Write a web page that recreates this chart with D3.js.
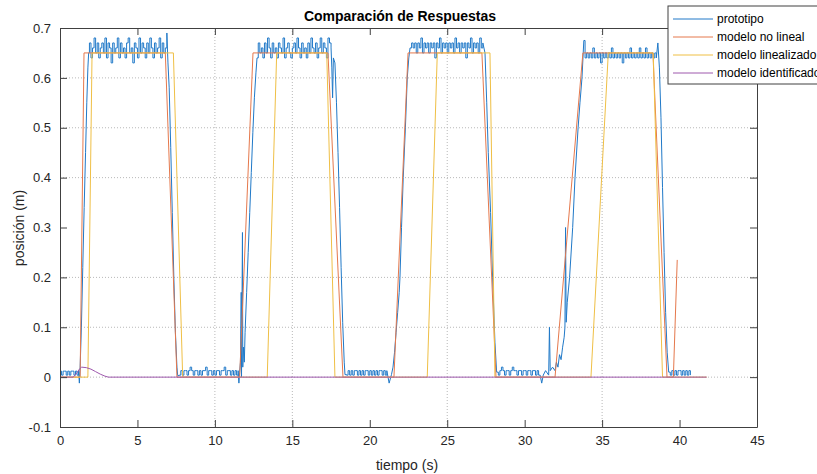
<!DOCTYPE html>
<html>
<head>
<meta charset="utf-8">
<script src="https://cdn.jsdelivr.net/npm/d3@7"></script>
<style>
body { margin: 0; background: #fff; }
text { font-family: "Liberation Sans", Arial, sans-serif; }
</style>
</head>
<body>
<div class="chart"></div>
<script>
// Comparación de Respuestas - posición vs tiempo
var series = ["prototipo", "modelo no lineal", "modelo linealizado", "modelo identificado"];
var color = ["#2079c8", "#e5784c", "#efbf45", "#9e58ad"];

var xTicks = [0, 5, 10, 15, 20, 25, 30, 35, 40, 45];
var yTicks = [-0.1, 0, 0.1, 0.2, 0.3, 0.4, 0.5, 0.6, 0.7];
var xGrid = [10, 15, 25, 35];
var yGrid = [0, 0.1, 0.2, 0.4, 0.5, 0.6];

// modelos [t, y]
var noLineal = [[0, 0], [1.3, 0], [1.55, 0.65], [6.8, 0.65], [7.55, 0], [11.6, 0], [12.46, 0.65], [17.3, 0.65], [18.27, 0],
    [21.56, 0], [22.47, 0.65], [27.24, 0.65], [28.15, 0], [31.96, 0], [33.76, 0.65], [38.28, 0.65], [39.19, 0], [39.6, 0], [39.85, 0.235]];
var linealizado = [[0, 0], [1.8, 0], [2.07, 0.65], [7.32, 0.65], [7.92, 0], [13.38, 0], [13.99, 0.65], [17.22, 0.65], [17.75, 0],
    [23.71, 0], [24.36, 0.65], [27.76, 0.65], [28.08, 0], [34.28, 0], [35.4, 0.65], [38.3, 0.65], [38.9, 0], [41.75, 0]];
var identificado = [[0, 0], [0.86, 0], [1.1, 0.009], [1.25, 0.016], [1.4, 0.02], [1.7, 0.019], [2.0, 0.016], [2.3, 0.011],
    [2.6, 0.006], [2.9, 0.002], [3.12, 0], [41.75, 0]];

// prototipo: tramos con ruido (muestras cada 0.1 s) y transiciones [t, y]
var dtRuido = 0.1;
var proto_base0 = [0.012, 0.004, 0.012, 0.012, 0.004, 0.012, 0.004, 0.012, 0.012, 0.004, 0.012, 0.004, 0.012]; // t0 = 0
var proto_sube1 = [[1.25, -0.012], [1.3, 0.02], [1.38, 0.1], [1.47, 0.22], [1.56, 0.34], [1.65, 0.45], [1.73, 0.55], [1.8, 0.62], [1.85, 0.65]];
var proto_top1 = [0.67, 0.64, 0.66, 0.68, 0.65, 0.67, 0.64, 0.66, 0.67, 0.65, 0.68, 0.64, 0.67, 0.66, 0.63, 0.67, 0.65, 0.66, 0.68, 0.64,
    0.67, 0.65, 0.66, 0.64, 0.67, 0.68, 0.65, 0.66, 0.63, 0.67, 0.66, 0.64, 0.68, 0.65, 0.67, 0.66, 0.64, 0.67, 0.65, 0.68,
    0.66, 0.64, 0.67, 0.65, 0.66, 0.68, 0.64, 0.67, 0.65, 0.66, 0.69]; // t0 = 1.9
var proto_baja1 = [[6.97, 0.63], [7.05, 0.58], [7.15, 0.46], [7.25, 0.33], [7.35, 0.2], [7.45, 0.09], [7.55, 0.02], [7.6, 0.003]];
var proto_base1 = [0.004, 0.013, 0.004, 0.013, 0.013, 0.004, 0.013, 0.02, 0.013, 0.004, 0.013, 0.013, 0.004, 0.013, 0.004, 0.013,
    0.013, 0.02, 0.004, 0.013, 0.013, 0.004, 0.013, 0.004, 0.013, 0.013, 0.004, 0.013, 0.013, 0.02, 0.004, 0.013, 0.013, 0.004,
    0.013, 0.004, 0.013, 0.004, 0.013]; // t0 = 7.7
var proto_sube2 = [[11.55, -0.012], [11.6, 0.01], [11.65, 0.03], [11.7, 0.17], [11.72, 0.0], [11.78, 0.29], [11.8, 0.02], [11.85, 0.06],
    [11.9, 0.03], [11.95, 0.09], [12.05, 0.17], [12.15, 0.25], [12.25, 0.33], [12.35, 0.41], [12.45, 0.49], [12.55, 0.56], [12.65, 0.61],
    [12.72, 0.64]];
var proto_top2 = [0.67, 0.65, 0.66, 0.64, 0.67, 0.65, 0.68, 0.66, 0.64, 0.67, 0.65, 0.66, 0.64, 0.67, 0.66, 0.65, 0.68, 0.64, 0.66, 0.67,
    0.65, 0.64, 0.66, 0.67, 0.65, 0.68, 0.66, 0.64, 0.67, 0.65, 0.66, 0.64, 0.67, 0.65, 0.68, 0.66, 0.65, 0.67, 0.64, 0.66,
    0.68, 0.65, 0.67, 0.66, 0.64, 0.68, 0.67, 0.66]; // t0 = 12.8
var proto_baja2 = [[17.55, 0.62], [17.6, 0.56], [17.65, 0.64], [17.75, 0.63], [17.85, 0.55], [17.95, 0.45], [18.05, 0.34], [18.15, 0.22],
    [18.25, 0.11], [18.35, 0.03], [18.4, 0.005]];
var proto_base2 = [0.004, 0.013, 0.004, 0.013, 0.004, 0.013, 0.013, 0.004, 0.013, 0.004, 0.013, 0.004, 0.013, 0.013, 0.004, 0.013,
    0.004, 0.013, 0.004, 0.013, 0.004, 0.013, 0.013, 0.004, 0.013, 0.004, 0.013]; // t0 = 18.5
var proto_sube3 = [[21.25, -0.012], [21.4, 0.005], [21.5, 0.02], [21.6, 0.05], [21.7, 0.09], [21.8, 0.13], [21.9, 0.17], [21.95, 0.2],
    [22.05, 0.3], [22.16, 0.4], [22.3, 0.5], [22.42, 0.6], [22.52, 0.64], [22.6, 0.66]];
var proto_top3 = [0.67, 0.66, 0.67, 0.65, 0.67, 0.66, 0.68, 0.65, 0.67, 0.66, 0.67, 0.65, 0.67, 0.66, 0.67, 0.64, 0.67, 0.66, 0.68, 0.65,
    0.67, 0.66, 0.67, 0.65, 0.67, 0.66, 0.67, 0.65, 0.68, 0.66, 0.67, 0.65, 0.67, 0.66, 0.67, 0.64, 0.67, 0.66, 0.68, 0.65,
    0.67, 0.66, 0.67, 0.65, 0.68, 0.66, 0.67]; // t0 = 22.7
var proto_baja3 = [[27.44, 0.65], [27.55, 0.55], [27.65, 0.45], [27.8, 0.33], [27.93, 0.2], [28.08, 0.07], [28.19, 0.01]];
var proto_base3 = [0.004, 0.013, 0.02, 0.013, 0.004, 0.013, 0.013, 0.004, 0.013, 0.02, 0.013, 0.013, 0.004, 0.013, 0.013, 0.004,
    0.013, 0.013, 0.004, 0.013, 0.013, 0.004, 0.013, 0.013, 0.004, 0.013, 0.004]; // t0 = 28.3
var proto_sube4 = [[31.0, 0.004], [31.1, -0.012], [31.2, 0.004], [31.35, 0.013], [31.55, 0.004], [31.6, 0.1], [31.65, 0.013], [31.8, 0.02],
    [31.96, 0.013], [32.05, 0.03], [32.15, 0.02], [32.25, 0.045], [32.35, 0.035], [32.45, 0.06], [32.55, 0.08], [32.6, 0.1], [32.64, 0.3],
    [32.68, 0.11], [32.75, 0.15], [32.9, 0.2], [33.1, 0.3], [33.25, 0.4], [33.45, 0.5], [33.57, 0.55], [33.7, 0.6], [33.78, 0.65], [33.82, 0.675]];
var proto_top4 = [0.64, 0.65, 0.64, 0.65, 0.64, 0.66, 0.64, 0.65, 0.64, 0.65, 0.63, 0.65, 0.64, 0.65, 0.64, 0.65, 0.64, 0.66, 0.64, 0.65,
    0.64, 0.65, 0.64, 0.65, 0.63, 0.65, 0.64, 0.65, 0.64, 0.66, 0.64, 0.65, 0.64, 0.65, 0.64, 0.66, 0.64, 0.65, 0.64, 0.66,
    0.64, 0.65, 0.64, 0.65, 0.64, 0.65, 0.64]; // t0 = 33.9
var proto_baja4 = [[38.6, 0.67], [38.7, 0.62], [38.8, 0.52], [38.9, 0.38], [39.0, 0.25], [39.1, 0.13], [39.2, 0.05], [39.3, 0.01]];
var proto_base4 = [0.004, 0.013, 0.004, 0.013, 0.004, 0.013, 0.013, 0.004, 0.013, 0.004, 0.013, 0.004, 0.013, 0.004]; // t0 = 39.4

function ruido(t0, vals) {
    return vals.map(function(v, i) { return [t0 + i * dtRuido, v]; });
}

// tramos del prototipo: ruido cuantizado (escalones) y transiciones (rectas)
var tramos = [
    [ruido(0, proto_base0), true], [proto_sube1, false], [ruido(1.9, proto_top1), true], [proto_baja1, false],
    [ruido(7.7, proto_base1), true], [proto_sube2, false], [ruido(12.8, proto_top2), true], [proto_baja2, false],
    [ruido(18.5, proto_base2), true], [proto_sube3, false], [ruido(22.7, proto_top3), true], [proto_baja3, false],
    [ruido(28.3, proto_base3), true], [proto_sube4, false], [ruido(33.9, proto_top4), true], [proto_baja4, false],
    [ruido(39.4, proto_base4), true]
];

var W = 817, H = 474;
var L = 60, R = 757, T = 28, B = 427;

var svg = d3.select(".chart")
    .append("svg")
    .attr("width", W)
    .attr("height", H);

var x = d3.scaleLinear().domain([0, 45]).range([L, R]);
var y = d3.scaleLinear().domain([-0.1, 0.7]).range([B, T]);

// grid punteado
xGrid.forEach(function(d) {
    svg.append("line")
        .attr("x1", x(d)).attr("x2", x(d))
        .attr("y1", T).attr("y2", B)
        .style("stroke", "#b8b8b8")
        .style("stroke-width", 1)
        .style("stroke-dasharray", "1,2");
});
yGrid.forEach(function(d) {
    svg.append("line")
        .attr("x1", L).attr("x2", R)
        .attr("y1", y(d)).attr("y2", y(d))
        .style("stroke", "#b8b8b8")
        .style("stroke-width", 1)
        .style("stroke-dasharray", "1,2");
});

svg.append("clipPath").attr("id", "area")
    .append("rect").attr("x", L).attr("y", T).attr("width", R - L).attr("height", B - T);

var linea = d3.line().x(function(d) { return x(d[0]); }).y(function(d) { return y(d[1]); });
var lineaEsc = d3.line().x(function(d) { return x(d[0]); }).y(function(d) { return y(d[1]); }).curve(d3.curveStepAfter);

var g = svg.append("g").attr("clip-path", "url(#area)");

var previo = null;
tramos.forEach(function(tr) {
    var pts = previo ? [previo].concat(tr[0]) : tr[0];
    g.append("path")
        .attr("d", (tr[1] ? lineaEsc : linea)(pts))
        .attr("fill", "none")
        .attr("stroke", color[0])
        .attr("stroke-width", 1);
    previo = tr[0][tr[0].length - 1];
});
g.append("path").attr("d", linea(noLineal)).attr("fill", "none").attr("stroke", color[1]).attr("stroke-width", 1);
g.append("path").attr("d", linea(linealizado)).attr("fill", "none").attr("stroke", color[2]).attr("stroke-width", 1);
g.append("path").attr("d", linea(identificado)).attr("fill", "none").attr("stroke", color[3]).attr("stroke-width", 1);

// ejes (caja completa con marcas hacia adentro)
var fmt = function(d) { return String(d); };
var ejes = [
    [d3.axisBottom(x).tickValues(xTicks).tickFormat(fmt), "translate(0," + B + ")"],
    [d3.axisTop(x).tickValues(xTicks).tickFormat(""), "translate(0," + T + ")"],
    [d3.axisLeft(y).tickValues(yTicks).tickFormat(fmt), "translate(" + L + ",0)"],
    [d3.axisRight(y).tickValues(yTicks).tickFormat(""), "translate(" + R + ",0)"]
];
ejes.forEach(function(e) {
    var a = svg.append("g")
        .attr("transform", e[1])
        .call(e[0].tickSizeInner(-7).tickSizeOuter(0).tickPadding(9));
    a.select(".domain").attr("stroke", "#404040");
    a.selectAll(".tick line").attr("stroke", "#404040");
    a.selectAll("text")
        .style("font-size", "13px")
        .attr("font-family", "Liberation Sans, Arial, sans-serif")
        .attr("fill", "#262626");
});

svg.append("text")
    .attr("x", 400).attr("y", 21)
    .attr("text-anchor", "middle")
    .text("Comparación de Respuestas")
    .style("font-size", "14px")
    .attr("font-weight", "bold")
    .attr("fill", "#000");

svg.append("text")
    .attr("x", 407).attr("y", 470)
    .attr("text-anchor", "middle")
    .text("tiempo (s)")
    .style("font-size", "14px")
    .attr("fill", "#262626");

svg.append("text")
    .attr("transform", "translate(24,228) rotate(-90)")
    .attr("text-anchor", "middle")
    .text("posición (m)")
    .style("font-size", "14px")
    .attr("fill", "#262626");

// leyenda
svg.append("rect")
    .attr("x", 668).attr("y", 6)
    .attr("width", 160).attr("height", 78)
    .attr("fill", "#fff")
    .attr("stroke", "#404040")
    .attr("stroke-width", 1);

for (var i = 0; i < 4; i++) {
    svg.append("line")
        .attr("x1", 673).attr("x2", 713)
        .attr("y1", 19 + i * 18).attr("y2", 19 + i * 18)
        .style("stroke", color[i])
        .style("stroke-width", 1);
    svg.append("text")
        .attr("x", 717).attr("y", 23 + i * 18)
        .text(series[i])
        .style("font-size", "12px")
        .attr("fill", "#000");
}
</script>
</body>
</html>
